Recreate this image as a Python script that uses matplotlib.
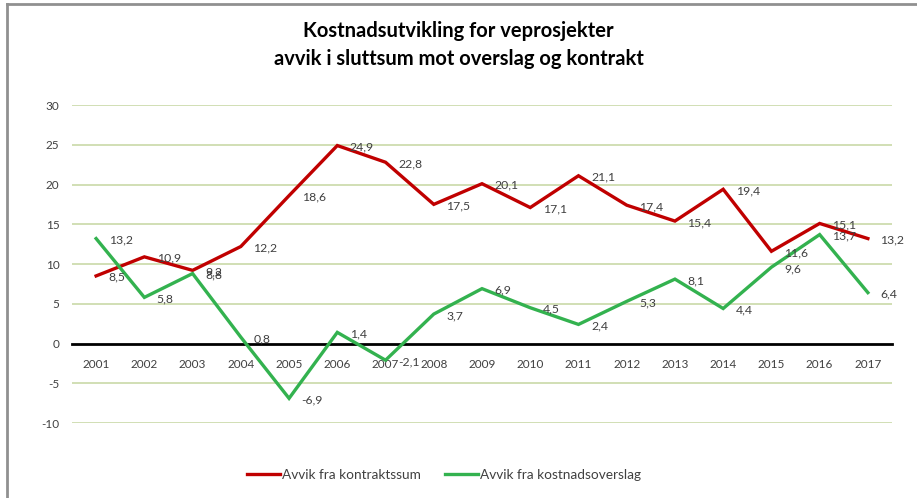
import matplotlib
matplotlib.use("Agg")
import matplotlib.pyplot as plt
from matplotlib.lines import Line2D

plt.rcParams['font.family'] = ['Lato', 'DejaVu Sans']

years = ["2001", "2002", "2003", "2004", "2005", "2006", "2007", "2008", "2009",
         "2010", "2011", "2012", "2013", "2014", "2015", "2016", "2017"]
kontrakt = [8.5, 10.9, 9.2, 12.2, 18.6, 24.9, 22.8, 17.5, 20.1,
            17.1, 21.1, 17.4, 15.4, 19.4, 11.6, 15.1, 13.2]
overslag = [13.2, 5.8, 8.8, 0.8, -6.9, 1.4, -2.1, 3.7, 6.9,
            4.5, 2.4, 5.3, 8.1, 4.4, 9.6, 13.7, 6.4]
series_names = ["Avvik fra kontraktssum", "Avvik fra kostnadsoverslag"]
title = "Kostnadsutvikling for veprosjekter\navvik i sluttsum mot overslag og kontrakt"
yticks = [-10, -5, 0, 5, 10, 15, 20, 25, 30]

red = "#c00000"
green = "#33b24f"
grid_c = "#c9d9a8"
txt_c = "#404040"

fig = plt.figure(figsize=(9.17, 4.98), dpi=100)
ax = fig.add_axes([72/917, 1-423/498, 820/917, 318/498])

x = list(range(len(years)))
ax.plot(x, kontrakt, color=red, lw=2.4, solid_joinstyle='miter', zorder=3)
ax.plot(x, overslag, color=green, lw=2.4, solid_joinstyle='miter', zorder=3)

for xi, v in zip(x, kontrakt):
    ax.annotate(f"{v:.1f}".replace(".", ","), (xi, v), xytext=(9, -1),
                textcoords="offset points", ha="left", va="center",
                fontsize=8.8, color=txt_c, zorder=4)
for xi, v in zip(x, overslag):
    ax.annotate(f"{v:.1f}".replace(".", ","), (xi, v), xytext=(9, -1),
                textcoords="offset points", ha="left", va="center",
                fontsize=8.8, color=txt_c, zorder=4)

ax.set_xlim(-0.5, len(years) - 0.5)
ax.set_ylim(-10, 30)
ax.set_yticks(yticks)
ax.set_yticklabels([str(t) for t in yticks])
ax.set_xticks(x)
ax.set_xticklabels(years)
for t in yticks:
    if t != 0:
        ax.axhline(t, color=grid_c, lw=1.2, zorder=1)

for s in ["top", "right", "left"]:
    ax.spines[s].set_visible(False)
ax.spines["bottom"].set_position(("data", 0))
ax.spines["bottom"].set_color("black")
ax.spines["bottom"].set_linewidth(2)
ax.spines["bottom"].set_zorder(2)
ax.tick_params(axis="x", length=0, pad=11, labelsize=8.5, labelcolor=txt_c)
ax.tick_params(axis="y", length=0, pad=9, labelsize=8.5, labelcolor=txt_c)

fig.text(0.5, 1-45/498, title, ha="center", va="center", fontsize=14.5,
         fontweight="bold", color="black", linespacing=1.45)

handles = [Line2D([], [], color=red, lw=2.4), Line2D([], [], color=green, lw=2.4)]
fig.legend(handles, series_names, loc="center", bbox_to_anchor=(444/917, 1-475/498),
           ncol=2, frameon=False, fontsize=9.8, handlelength=2.4, handletextpad=0.15,
           columnspacing=1.8, labelcolor=txt_c)

# outer frame (top and left edges)
fig.add_artist(Line2D([7/917, 1], [1-4/498, 1-4/498], color="#909090", lw=2,
                      transform=fig.transFigure))
fig.add_artist(Line2D([7/917, 7/917], [0, 1-4/498], color="#909090", lw=2,
                      transform=fig.transFigure))

fig.savefig("out.png", dpi=100, facecolor="white")
